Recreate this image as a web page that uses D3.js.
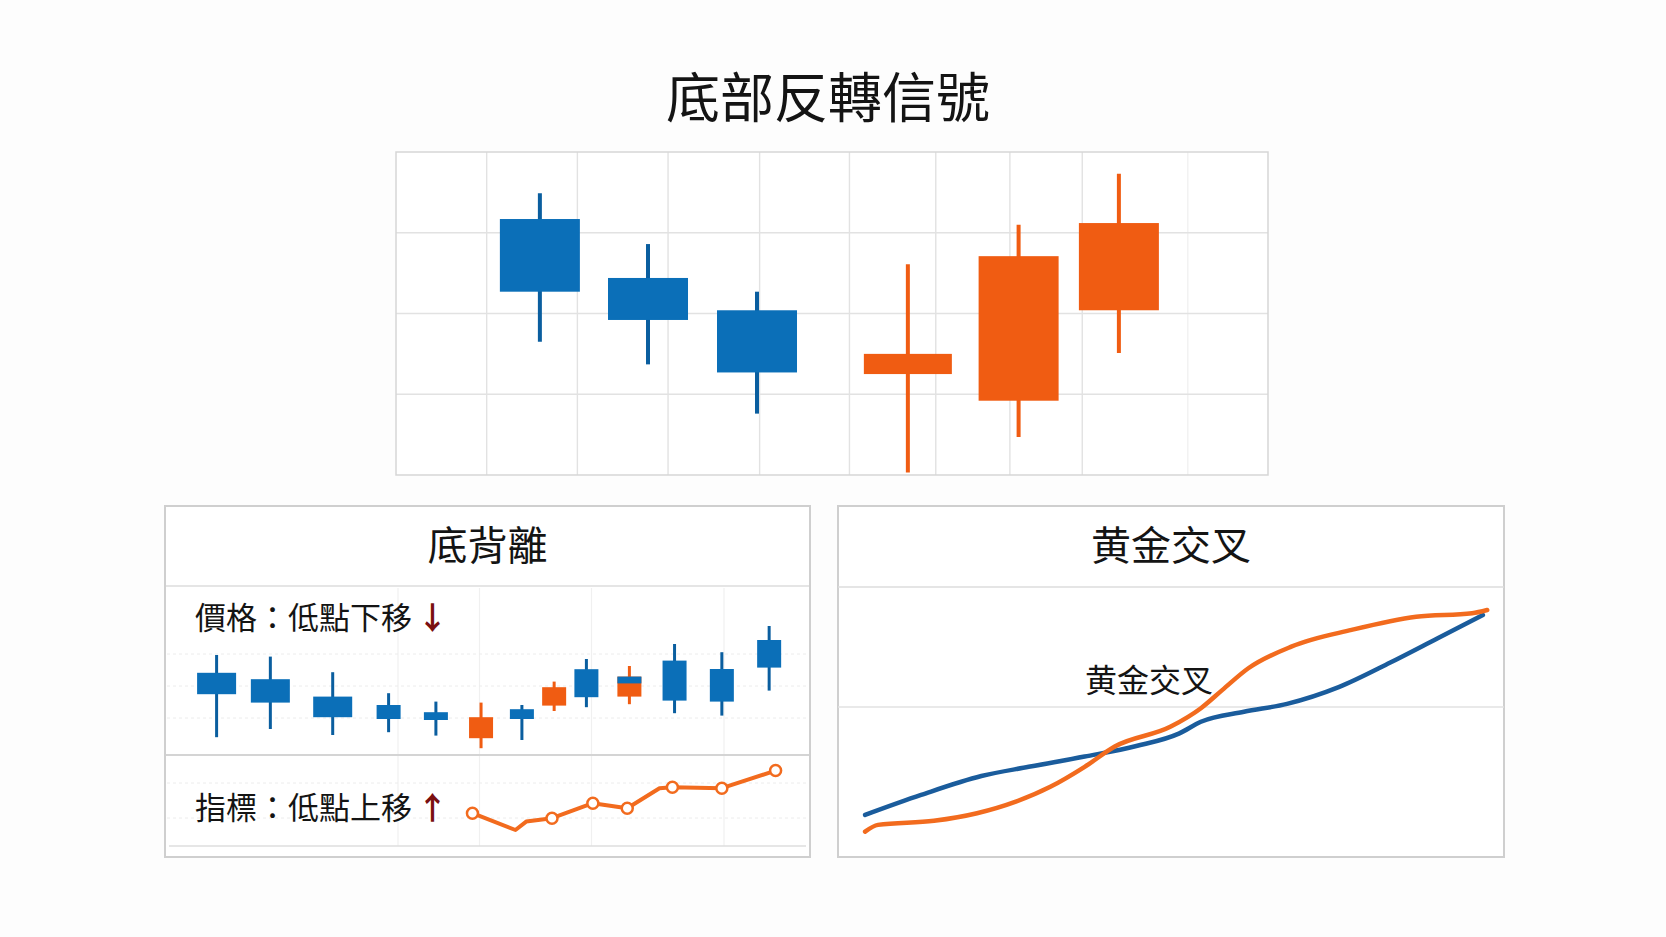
<!DOCTYPE html>
<html>
<head>
<meta charset="utf-8">
<script src="https://cdn.jsdelivr.net/npm/d3@7"></script>
<style>
    body { margin: 0; background: #fdfdfd; }
    text { font-family: "Noto Sans CJK TC", "Noto Sans CJK SC", "Noto Sans", sans-serif; fill: #141414; }
</style>
</head>
<body>
<svg id="chart"></svg>
<script>
// top panel: reversal candles
const topDays = [1.65, 2.89, 4.14, 5.87, 7.14, 8.29]
const topOpen = [31.7, 24.4, 20.4, 12.5, 9.2, 20.4]
const topClose = [22.7, 19.2, 12.7, 15.0, 27.1, 31.2]
const topHigh = [34.9, 28.6, 22.7, 26.1, 31.0, 37.3]
const topLow = [16.5, 13.7, 7.6, 0.3, 4.7, 15.1]
const topGridX = [1.04, 2.08, 3.12, 4.17, 5.2, 6.19, 7.04, 7.87, 9.08]
const topGridY = [10, 20, 30]

// bottom-left: divergence, price candles
const divDays = [2.4, 4.9, 7.8, 10.4, 12.6, 14.7, 16.6, 18.1, 19.6, 21.6, 23.7, 25.9, 28.1]
const divOpen = [38.6, 35.4, 26.7, 22.5, 18.9, 5.9, 20.4, 22.2, 40.4, 26.7, 44.7, 40.5, 55.0]
const divClose = [27.9, 23.7, 16.4, 15.5, 15.0, 16.4, 15.5, 31.4, 26.4, 36.7, 24.7, 24.2, 41.2]
const divHigh = [47.5, 46.7, 38.9, 28.4, 24.2, 23.7, 22.5, 34.2, 45.5, 42.0, 53.0, 48.9, 62.0]
const divLow = [6.4, 10.5, 7.5, 8.9, 7.2, 0.9, 5.0, 19.5, 21.4, 22.9, 18.4, 17.2, 29.7]
const divCapDay = [21.6]
const divCapTop = [36.7]
const divCapBottom = [33.3]

// bottom-left: indicator line
const indDays = [14.3, 16.3, 16.8, 18.0, 19.9, 21.5, 23.0, 23.6, 25.9, 28.4]
const indValues = [18.4, 10.0, 14.2, 15.9, 23.4, 20.9, 30.9, 31.4, 30.9, 39.7]
const indMarked = [true, false, false, true, true, true, false, true, true, true]

// bottom-right: golden cross
const fastX = [4.07, 6.0, 14.41, 20.87, 26.7, 31.88, 37.04, 41.56, 49.97, 54.49, 57.73, 61.61, 68.06, 77.12, 86.82, 95.21, 97.48]
const fastY = [9.4, 11.9, 13.4, 16.2, 20.5, 26.0, 33.4, 40.9, 48.3, 55.1, 61.9, 69.9, 77.9, 84.1, 89.0, 90.3, 91.5]
const slowX = [4.07, 12.48, 21.53, 28.63, 37.04, 44.8, 51.26, 54.49, 60.96, 67.42, 75.18, 82.93, 90.05, 96.83]
const slowY = [15.6, 23.0, 30.0, 33.4, 37.2, 41.1, 45.8, 50.1, 53.8, 56.7, 62.9, 72.0, 81.0, 89.6]

const mainTitle = '底部反轉信號'
const divTitle = '底背離'
const crossTitle = '黄金交叉'
const priceLabel = '價格：低點下移'
const indLabel = '指標：低點上移'

const BLUE = '#0b6fb8'
const BLUE_WICK = '#0a5e9f'
const ORANGE = '#f05c12'
const LINE_BLUE = '#1a5c9c'
const LINE_ORANGE = '#f26b1e'

const svg = d3.select('#chart')
    .attr('width', 1666)
    .attr('height', 937)

svg.append('rect')
    .attr('width', 1666)
    .attr('height', 937)
    .attr('fill', '#fdfdfd')

svg.append('text')
    .text(mainTitle)
    .attr('x', 828)
    .attr('y', 94)
    .attr('text-anchor', 'middle')
    .attr('dominant-baseline', 'central')
    .style('font-size', '54px')

const zip = (days, o, c, h, l) => days.map((d, i) => ({day: d, open: o[i], close: c[i], high: h[i], low: l[i], i: i}))

function drawCandles(g, data, x, y, bodyWidth, wickWidth) {
    g.selectAll('.wick')
        .data(data)
        .join('line')
        .attr('class', 'wick')
        .attr('x1', d => x(d.day))
        .attr('x2', d => x(d.day))
        .attr('y1', d => y(d.high))
        .attr('y2', d => y(d.low))
        .attr('stroke', d => d.open > d.close ? BLUE_WICK : ORANGE)
        .attr('stroke-width', wickWidth)

    g.selectAll('.body')
        .data(data)
        .join('rect')
        .attr('class', 'body')
        .attr('x', d => x(d.day) - bodyWidth(d) / 2)
        .attr('width', d => bodyWidth(d))
        .attr('y', d => y(Math.max(d.open, d.close)))
        .attr('height', d => Math.abs(y(d.open) - y(d.close)))
        .attr('fill', d => d.open > d.close ? BLUE : ORANGE)
}

// ---------- top panel ----------
function drawTopPanel() {
    const box = {left: 396, right: 1268, top: 152, bottom: 475}
    const x = d3.scaleLinear().domain([0, 10]).range([box.left, box.right])
    const y = d3.scaleLinear().domain([0, 40]).range([box.bottom, box.top])
    const g = svg.append('g')

    g.append('rect')
        .attr('x', box.left).attr('y', box.top)
        .attr('width', box.right - box.left).attr('height', box.bottom - box.top)
        .attr('fill', '#fff')

    g.selectAll('.gx')
        .data(topGridX)
        .join('line')
        .attr('x1', d => x(d)).attr('x2', d => x(d))
        .attr('y1', box.top).attr('y2', box.bottom)
        .attr('stroke', (d, i) => i === topGridX.length - 1 ? '#f1f1f1' : '#e2e2e2')
        .attr('stroke-width', 1.4)

    g.selectAll('.gy')
        .data(topGridY)
        .join('line')
        .attr('x1', box.left).attr('x2', box.right)
        .attr('y1', d => y(d)).attr('y2', d => y(d))
        .attr('stroke', '#e2e2e2')
        .attr('stroke-width', 1.4)

    g.append('rect')
        .attr('x', box.left).attr('y', box.top)
        .attr('width', box.right - box.left).attr('height', box.bottom - box.top)
        .attr('fill', 'none')
        .attr('stroke', '#d6d6d6')
        .attr('stroke-width', 1.5)

    drawCandles(g, zip(topDays, topOpen, topClose, topHigh, topLow), x, y, d => d.i === 3 ? 88 : 80, 4)
}

// ---------- bottom-left panel ----------
function drawDivergencePanel() {
    const box = {left: 165, right: 810, top: 506, bottom: 857}
    const x = d3.scaleLinear().domain([0, 30]).range([box.left, box.left + 645])
    const yPrice = d3.scaleLinear().domain([0, 75]).range([750, 600])
    const yInd = d3.scaleLinear().domain([0, 50]).range([850, 750])
    const g = svg.append('g')

    g.append('rect')
        .attr('x', box.left).attr('y', box.top)
        .attr('width', box.right - box.left).attr('height', box.bottom - box.top)
        .attr('fill', '#fff')

    // faint grid
    const faintX = [398, 479.5, 591.5, 724]
    g.selectAll('.fx')
        .data(faintX)
        .join('line')
        .attr('x1', d => d).attr('x2', d => d)
        .attr('y1', 588).attr('y2', 846)
        .attr('stroke', '#f0f0f0')
        .attr('stroke-width', 1.2)
    const faintY = [654, 686, 718, 783, 818]
    g.selectAll('.fy')
        .data(faintY)
        .join('line')
        .attr('x1', box.left + 2).attr('x2', box.right - 2)
        .attr('y1', d => d).attr('y2', d => d)
        .attr('stroke', '#ececec')
        .attr('stroke-dasharray', '3,3')
        .attr('stroke-width', 1)

    g.append('line')
        .attr('x1', box.left).attr('x2', box.right)
        .attr('y1', 586).attr('y2', 586)
        .attr('stroke', '#dcdcdc').attr('stroke-width', 1.5)
    g.append('line')
        .attr('x1', box.left).attr('x2', box.right)
        .attr('y1', 755).attr('y2', 755)
        .attr('stroke', '#d4d4d4').attr('stroke-width', 2)
    g.append('line')
        .attr('x1', box.left + 4).attr('x2', box.right - 4)
        .attr('y1', 846).attr('y2', 846)
        .attr('stroke', '#dedede').attr('stroke-width', 1.5)

    g.append('rect')
        .attr('x', box.left).attr('y', box.top)
        .attr('width', box.right - box.left).attr('height', box.bottom - box.top)
        .attr('fill', 'none')
        .attr('stroke', '#cfcfcf')
        .attr('stroke-width', 2)

    g.append('text')
        .text(divTitle)
        .attr('x', (box.left + box.right) / 2)
        .attr('y', 543)
        .attr('text-anchor', 'middle')
        .attr('dominant-baseline', 'central')
        .style('font-size', '40px')

    const label = (txt, yPos, arrow) => {
        const t = g.append('text')
            .attr('x', 195)
            .attr('y', yPos)
            .attr('dominant-baseline', 'central')
            .style('font-size', '31px')
        t.append('tspan').text(txt)
        t.append('tspan')
            .text(arrow)
            .attr('dx', 5)
            .style('fill', '#7a1010')
            .style('font-weight', 'bold')
    }
    label(priceLabel, 615, '↓')
    label(indLabel, 805, '↑')

    const candles = zip(divDays, divOpen, divClose, divHigh, divLow)
    drawCandles(g, candles, x, yPrice, d => d.i < 3 ? 39 : 24, 3)

    // blue cap on the mixed candle
    g.selectAll('.cap')
        .data(divCapDay.map((d, i) => ({day: d, top: divCapTop[i], bottom: divCapBottom[i]})))
        .join('rect')
        .attr('x', d => x(d.day) - 12)
        .attr('width', 24)
        .attr('y', d => yPrice(d.top))
        .attr('height', d => yPrice(d.bottom) - yPrice(d.top))
        .attr('fill', BLUE)

    const indData = indDays.map((d, i) => ({day: d, v: indValues[i], marked: indMarked[i]}))
    const line = d3.line().x(d => x(d.day)).y(d => yInd(d.v))
    g.append('path')
        .datum(indData)
        .attr('d', line)
        .attr('fill', 'none')
        .attr('stroke', LINE_ORANGE)
        .attr('stroke-width', 4)
        .attr('stroke-linejoin', 'round')

    g.selectAll('.marker')
        .data(indData.filter(d => d.marked))
        .join('circle')
        .attr('cx', d => x(d.day))
        .attr('cy', d => yInd(d.v))
        .attr('r', 5.5)
        .attr('fill', '#fff')
        .attr('stroke', LINE_ORANGE)
        .attr('stroke-width', 2.5)
}

// ---------- bottom-right panel ----------
function drawCrossPanel() {
    const box = {left: 838, right: 1504, top: 506, bottom: 857}
    const x = d3.scaleLinear().domain([0, 100]).range([box.left, box.right])
    const y = d3.scaleLinear().domain([0, 100]).range([857, 587])
    const g = svg.append('g')

    g.append('rect')
        .attr('x', box.left).attr('y', box.top)
        .attr('width', box.right - box.left).attr('height', box.bottom - box.top)
        .attr('fill', '#fff')
        .attr('stroke', '#cfcfcf')
        .attr('stroke-width', 2)

    g.append('line')
        .attr('x1', box.left).attr('x2', box.right)
        .attr('y1', 587).attr('y2', 587)
        .attr('stroke', '#dcdcdc').attr('stroke-width', 1.5)
    g.append('line')
        .attr('x1', box.left).attr('x2', box.right)
        .attr('y1', 707).attr('y2', 707)
        .attr('stroke', '#e2e2e2').attr('stroke-width', 1.5)

    g.append('text')
        .text(crossTitle)
        .attr('x', (box.left + box.right) / 2)
        .attr('y', 543)
        .attr('text-anchor', 'middle')
        .attr('dominant-baseline', 'central')
        .style('font-size', '40px')

    const line = d3.line()
        .x(d => x(d[0]))
        .y(d => y(d[1]))
        .curve(d3.curveMonotoneX)

    g.append('path')
        .datum(slowX.map((d, i) => [d, slowY[i]]))
        .attr('d', line)
        .attr('fill', 'none')
        .attr('stroke', LINE_BLUE)
        .attr('stroke-width', 4.5)
        .attr('stroke-linecap', 'round')

    g.append('path')
        .datum(fastX.map((d, i) => [d, fastY[i]]))
        .attr('d', line)
        .attr('fill', 'none')
        .attr('stroke', LINE_ORANGE)
        .attr('stroke-width', 4.5)
        .attr('stroke-linecap', 'round')

    g.append('text')
        .text(crossTitle)
        .attr('x', 1149)
        .attr('y', 678)
        .attr('text-anchor', 'middle')
        .attr('dominant-baseline', 'central')
        .style('font-size', '32px')
}

drawTopPanel()
drawDivergencePanel()
drawCrossPanel()
</script>
</body>
</html>
